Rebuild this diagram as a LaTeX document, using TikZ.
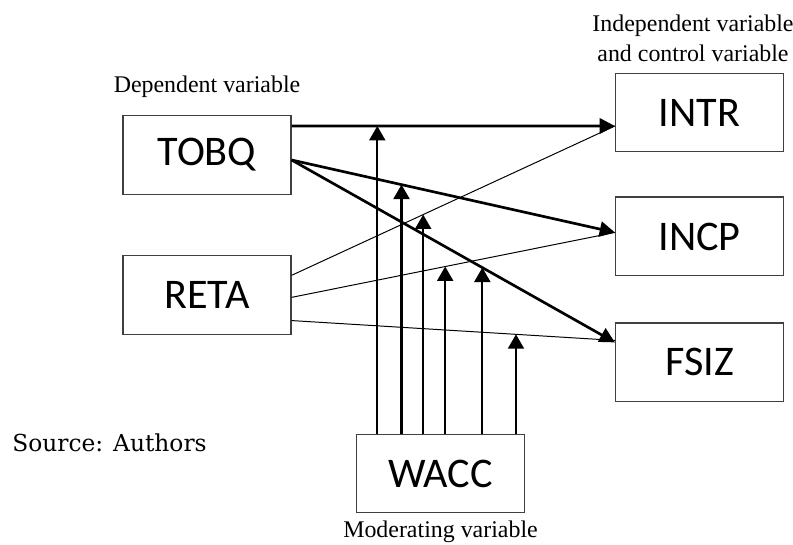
\documentclass[tikz,border=0pt]{standalone}
\usepackage{fontspec}
\setmainfont{Liberation Serif}
\newfontfamily\boxfont{Carlito}
\newfontfamily\sourcefont{DejaVu Serif}
\usetikzlibrary{positioning, arrows.meta}

\begin{document}
\begin{tikzpicture}[x=0.025cm, y=-0.025cm, node distance=1.1cm]

	% Styles
	\tikzset{
		var/.style={
			rectangle, draw=black!75, line width=0.8pt,
			minimum width=4.2cm, minimum height=1.97cm,
			inner sep=0pt, font=\boxfont\fontsize{30}{36}\selectfont
		},
		caption/.style={align=center, inner sep=0pt, font=\fontsize{17}{21.3}\selectfont},
		main/.style={line width=1.9pt, -{Triangle[length=0.38cm, width=0.38cm]}},
		side/.style={line width=0.7pt},
		moderate/.style={line width=1.5pt, -{Triangle[length=0.36cm, width=0.4cm]}}
	}

	\useasboundingbox (0,0) rectangle (793,544);

	% Dependent variable
	\node (tobq) [var] at (207,155) {TOBQ};
	\node (reta) [var, below=1.5cm of tobq] {RETA};

	% Independent and control variables
	\node (intr) [var] at (699.5,112.5) {INTR};
	\node (incp) [var, below=1.1cm of intr] {INCP};
	\node (fsiz) [var, below=1.15cm of incp] {FSIZ};

	% Moderating variable
	\node (wacc) [var] at (440.5,473.5) {WACC};

	% Captions
	\node (deplabel) [caption] at (207,87) {Dependent variable};
	\node (indlabel) [caption] at (693,38) {Independent variable\\and control variable};
	\node (modlabel) [caption] at (440.5,532) {Moderating variable};
	\node (source) [anchor=west, inner sep=0pt, font=\sourcefont\fontsize{16.6}{20}\selectfont] at (12,443) {Source: Authors};

	% Arrows: TOBQ to the right
	\draw[main] ([yshift=0.725cm]tobq.east) -- ([yshift=-0.3375cm]intr.west) coordinate[pos=0.265] (ma);
	\draw[main] ([yshift=-0.125cm]tobq.east) -- ([yshift=0.1cm]incp.west) coordinate[pos=0.34] (mb);
	\draw[main] ([yshift=-0.125cm]tobq.east) -- ([yshift=0.5cm]fsiz.west) coordinate[pos=0.59] (me);

	% Lines: RETA to the right
	\draw[side] ([yshift=0.49cm]reta.east) -- ([yshift=-0.3375cm]intr.west) coordinate[pos=0.407] (mc);
	\draw[side] ([yshift=-0.06cm]reta.east) -- ([yshift=0.1cm]incp.west) coordinate[pos=0.475] (md);
	\draw[side] ([yshift=-0.64cm]reta.east) -- ([yshift=0.55cm]fsiz.west) coordinate[pos=0.694] (mf);

	% Arrows: WACC onto the links
	\foreach \m in {ma, mb, mc, md, me, mf}
		\draw[moderate] (wacc.north -| \m) -- (\m);

\end{tikzpicture}
\end{document}
